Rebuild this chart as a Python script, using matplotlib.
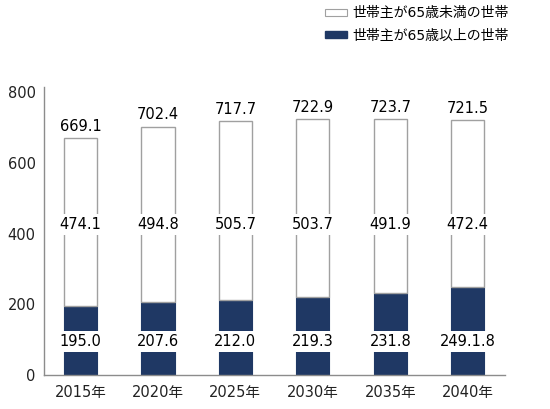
import matplotlib.pyplot as plt
from matplotlib.patches import Patch

plt.rcParams['font.family'] = ['DejaVu Sans', 'Noto Sans CJK JP']

# data (万世帯)
years = ["2015年", "2020年", "2025年", "2030年", "2035年", "2040年"]
old_hh = [195.0, 207.6, 212.0, 219.3, 231.8, 249.1]      # 世帯主が65歳以上
young_hh = [474.1, 494.8, 505.7, 503.7, 491.9, 472.4]    # 世帯主が65歳未満
totals = [669.1, 702.4, 717.7, 722.9, 723.7, 721.5]
old_labels = ["195.0", "207.6", "212.0", "219.3", "231.8", "249.1.8"]
young_labels = ["474.1", "494.8", "505.7", "503.7", "491.9", "472.4"]
total_labels = ["669.1", "702.4", "717.7", "722.9", "723.7", "721.5"]

navy = "#1F3864"
edge_gray = "#A0A0A0"

fig = plt.figure(figsize=(5.5, 4.09), dpi=100)
ax = fig.add_axes([0.08, 0.083, 0.838, 0.704])

x = list(range(len(years)))
w = 0.43
ax.bar(x, old_hh, w, color=navy, edgecolor=navy, linewidth=0.8, zorder=2)
ax.bar(x, young_hh, w, bottom=old_hh, color="white", edgecolor=edge_gray,
       linewidth=1.0, zorder=2)

box = dict(boxstyle="square,pad=0.2", fc="white", ec="none")
for i in x:
    ax.annotate(total_labels[i], (i, totals[i]), xytext=(0, 3),
                textcoords="offset points", ha="center", va="bottom",
                fontsize=10.5, zorder=4)
    ax.text(i, 425, young_labels[i], ha="center", va="center",
            fontsize=10.5, bbox=box, zorder=3)
    ax.text(i, 96, old_labels[i], ha="center", va="center",
            fontsize=10.5, bbox=box, zorder=3)

ax.set_xlim(-0.47, 5.48)
ax.set_ylim(0, 814)
ax.set_yticks([0, 200, 400, 600, 800])
ax.set_xticks(x)
ax.set_xticklabels(years)
ax.tick_params(axis="both", length=0, labelsize=10.5, colors="#222222")
ax.tick_params(axis="y", pad=6)
ax.tick_params(axis="x", pad=7)
for s in ["top", "right"]:
    ax.spines[s].set_visible(False)
for s in ["left", "bottom"]:
    ax.spines[s].set_color("#8C8C8C")
    ax.spines[s].set_linewidth(1.0)

handles = [Patch(facecolor="white", edgecolor=edge_gray, linewidth=0.8),
           Patch(facecolor=navy, edgecolor=navy)]
fig.legend(handles, ["世帯主が65歳未満の世帯", "世帯主が65歳以上の世帯"],
           loc="upper right", bbox_to_anchor=(0.94, 1.005), frameon=False,
           fontsize=10, handlelength=1.6, handleheight=0.36,
           handletextpad=0.35, labelspacing=0.6, borderaxespad=0.2)

fig.savefig("out.png", dpi=100)
